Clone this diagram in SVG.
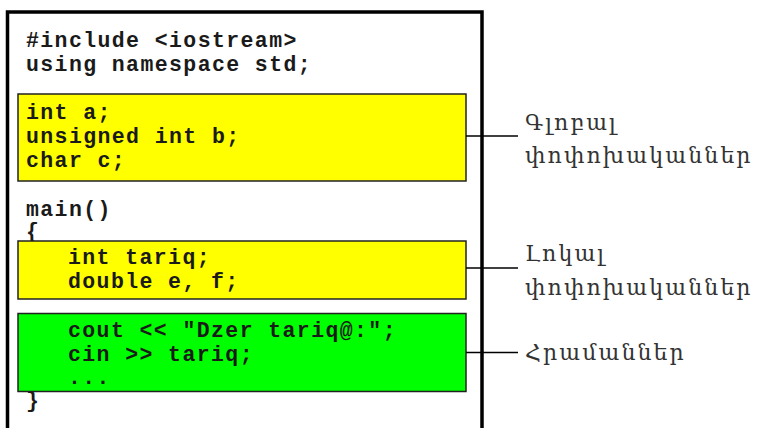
<svg xmlns="http://www.w3.org/2000/svg" width="764" height="428" viewBox="0 0 764 428">
<style>
.code{font-family:"Liberation Mono","Courier New",monospace;font-weight:bold;font-size:21.5px;letter-spacing:1.4px;fill:#1a1a1a}
.lbl{font-family:"DejaVu Serif","Noto Serif",serif;font-size:22px;letter-spacing:2.1px;fill:#333}
.blk{stroke:#222;stroke-width:1.5}
.conn{stroke:#000;stroke-width:1.5;fill:none}
</style>
<rect width="764" height="428" fill="#fff"/>
<g id="outer">
<path d="M7.5 430 V12 H482 V430" fill="none" stroke="#000" stroke-width="3.5"/>
<text class="code" x="26" y="47">#include &lt;iostream&gt;</text>
<text class="code" x="26" y="71">using namespace std;</text>
<text class="code" x="26" y="216">main()</text>
<text class="code" x="26" y="238">{</text>
<text class="code" x="26" y="407">}</text>
</g>
<g id="globals">
<rect class="blk" x="18" y="94" width="448" height="87" fill="#ffff00"/>
<text class="code" x="26" y="119">int a;</text>
<text class="code" x="26" y="143">unsigned int b;</text>
<text class="code" x="26" y="167">char c;</text>
</g>
<g id="locals">
<rect class="blk" x="18" y="241" width="448" height="58" fill="#ffff00"/>
<text class="code" x="68" y="264">int tariq;</text>
<text class="code" x="68" y="288">double e, f;</text>
</g>
<g id="commands">
<rect class="blk" x="18" y="313.5" width="448" height="78" fill="#00ff00"/>
<text class="code" x="68" y="337">cout &lt;&lt; "Dzer tariq@:";</text>
<text class="code" x="68" y="361">cin &gt;&gt; tariq;</text>
<text class="code" x="68" y="384">...</text>
</g>
<g id="connectors">
<line class="conn" x1="466" y1="136" x2="518" y2="136"/>
<line class="conn" x1="466" y1="268" x2="518" y2="268"/>
<line class="conn" x1="466" y1="352.5" x2="518" y2="352.5"/>
</g>
<g id="label-global">
<text class="lbl" x="525" y="130">Գլոբալ</text>
<text class="lbl" x="525" y="163">փոփոխականներ</text>
</g>
<g id="label-local">
<text class="lbl" x="525" y="261">Լոկալ</text>
<text class="lbl" x="525" y="295">փոփոխականներ</text>
</g>
<g id="label-commands">
<text class="lbl" x="525" y="360">Հրամաններ</text>
</g>
</svg>
